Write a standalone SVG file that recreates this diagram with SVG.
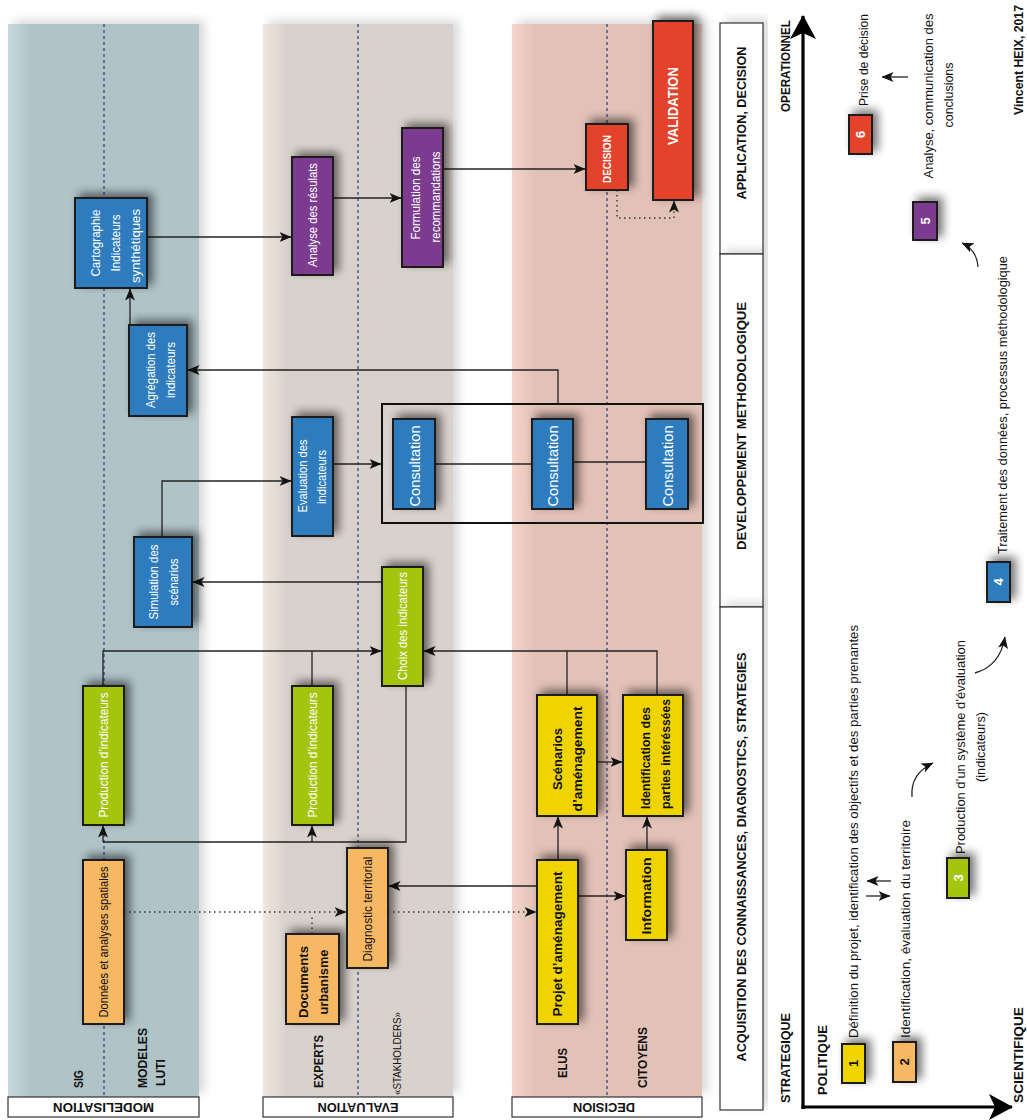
<svg xmlns="http://www.w3.org/2000/svg" width="1027" height="1120" viewBox="0 0 1027 1120">
<defs>
<style>
.t{font-family:"Liberation Sans",Arial,sans-serif;font-size:13px;text-anchor:middle;dominant-baseline:central;fill:#111}
.s{text-anchor:start}
.w{fill:#fff}
.b{font-weight:bold}
.nd{stroke:#1a1a1a;stroke-width:2}
.or{fill:#f7b863}.ye{fill:#f0d400}.gr{fill:#a5c40c}.bl{fill:#2f7bbd}.pu{fill:#7b3a8e}.rd{fill:#e4432a}
.c{fill:none;stroke:#222;stroke-width:1.3}
.d{fill:none;stroke:#333;stroke-width:1.4;stroke-dasharray:1.5 3.5}
.ld{fill:none;stroke:#2b3a8a;stroke-width:1.2;stroke-dasharray:3 3}
.hb{fill:#fff;stroke:#333;stroke-width:1.2}
</style>
<filter id="sh" x="-60%" y="-60%" width="220%" height="220%">
<feGaussianBlur in="SourceAlpha" stdDeviation="5"/>
<feOffset dx="5" dy="-4"/>
<feComponentTransfer><feFuncA type="linear" slope="0.55"/></feComponentTransfer>
<feMerge><feMergeNode/><feMergeNode in="SourceGraphic"/></feMerge>
</filter>
<filter id="sl" x="-10%" y="-5%" width="120%" height="110%">
<feGaussianBlur in="SourceAlpha" stdDeviation="5"/>
<feOffset dx="6" dy="-4"/>
<feComponentTransfer><feFuncA type="linear" slope="0.15"/></feComponentTransfer>
<feMerge><feMergeNode/><feMergeNode in="SourceGraphic"/></feMerge>
</filter>
<linearGradient id="gM" x1="0" x2="1" y1="0" y2="0"><stop offset="0" stop-color="#c7d9dc"/><stop offset="0.12" stop-color="#b0c3c7"/><stop offset="1" stop-color="#b0c3c7"/></linearGradient>
<linearGradient id="gE" x1="0" x2="1" y1="0" y2="0"><stop offset="0" stop-color="#eee6df"/><stop offset="0.12" stop-color="#d9d2cc"/><stop offset="1" stop-color="#d9d2cc"/></linearGradient>
<linearGradient id="gD" x1="0" x2="1" y1="0" y2="0"><stop offset="0" stop-color="#f5d5ca"/><stop offset="0.12" stop-color="#e2c1b7"/><stop offset="1" stop-color="#e2c1b7"/></linearGradient>
<marker id="ah" viewBox="0 0 12 10" refX="11.5" refY="5" markerWidth="12" markerHeight="10" markerUnits="userSpaceOnUse" orient="auto"><path d="M0,0 L12,5 L0,10 L3,5 z" fill="#111"/></marker>
<marker id="ax" viewBox="0 0 24 26" refX="23" refY="13" markerWidth="24" markerHeight="26" markerUnits="userSpaceOnUse" orient="auto"><path d="M0,0 L24,13 L0,26 L6,13 z" fill="#000"/></marker>
</defs>
<rect width="1027" height="1120" fill="#fff"/>

<g id="lanes">
<rect x="8" y="24" width="191" height="1073" fill="url(#gM)" filter="url(#sl)"/>
<rect x="263" y="24" width="190" height="1073" fill="url(#gE)" filter="url(#sl)"/>
<rect x="512" y="24" width="190" height="1073" fill="url(#gD)" filter="url(#sl)"/>
<line class="ld" x1="104" y1="24" x2="104" y2="1097"/>
<line class="ld" x1="358" y1="24" x2="358" y2="1097"/>
<line class="ld" x1="607" y1="24" x2="607" y2="1097"/>
<rect class="hb" x="8" y="1097" width="191" height="20"/>
<rect class="hb" x="263" y="1097" width="190" height="20"/>
<rect class="hb" x="512" y="1097" width="190" height="20"/>
<text class="t b" textLength="101" lengthAdjust="spacingAndGlyphs" transform="translate(103.5,1107) rotate(180)">MODELISATION</text>
<text class="t b" textLength="81" lengthAdjust="spacingAndGlyphs" transform="translate(358,1107) rotate(180)">EVALUATION</text>
<text class="t b" textLength="62" lengthAdjust="spacingAndGlyphs" transform="translate(604,1107) rotate(180)">DECISION</text>
<text class="t b s" textLength="18" lengthAdjust="spacingAndGlyphs" transform="translate(78,1088) rotate(-90)">SIG</text>
<text class="t b s" textLength="60" lengthAdjust="spacingAndGlyphs" transform="translate(142,1088) rotate(-90)">MODELES</text>
<text class="t b s" textLength="27" lengthAdjust="spacingAndGlyphs" transform="translate(160,1086) rotate(-90)">LUTI</text>
<text class="t b s" textLength="53" lengthAdjust="spacingAndGlyphs" transform="translate(318,1088) rotate(-90)">EXPERTS</text>
<text class="t s" style="font-size:11px" textLength="83" lengthAdjust="spacingAndGlyphs" transform="translate(397,1095) rotate(-90)">«STAKHOLDERS»</text>
<text class="t b s" textLength="30" lengthAdjust="spacingAndGlyphs" transform="translate(562,1078) rotate(-90)">ELUS</text>
<text class="t b s" textLength="61" lengthAdjust="spacingAndGlyphs" transform="translate(642,1088) rotate(-90)">CITOYENS</text>
</g>

<g id="headers">
<rect class="hb" x="720" y="23" width="43" height="231" filter="url(#sl)"/>
<rect class="hb" x="720" y="254" width="43" height="353" filter="url(#sl)"/>
<rect class="hb" x="720" y="607" width="43" height="503" filter="url(#sl)"/>
<text class="t b" textLength="153" lengthAdjust="spacingAndGlyphs" transform="translate(741.5,123) rotate(-90)">APPLICATION, DECISION</text>
<text class="t b" textLength="248" lengthAdjust="spacingAndGlyphs" transform="translate(741.5,426) rotate(-90)">DEVELOPPEMENT METHODOLOGIQUE</text>
<text class="t b" textLength="409" lengthAdjust="spacingAndGlyphs" transform="translate(741.5,857) rotate(-90)">ACQUISITION DES CONNAISSANCES, DIAGNOSTICS, STRATEGIES</text>
</g>

<g id="connectors">
<line class="d" x1="124" y1="912" x2="346" y2="912" marker-end="url(#ah)"/>
<line class="d" x1="312" y1="934" x2="312" y2="914"/>
<line class="d" x1="388" y1="912" x2="536" y2="912" marker-end="url(#ah)"/>
<line class="c" x1="537" y1="886" x2="389" y2="886" marker-end="url(#ah)"/>
<line class="c" x1="578" y1="896" x2="625" y2="896" marker-end="url(#ah)"/>
<line class="c" x1="558" y1="860" x2="558" y2="817" marker-end="url(#ah)"/>
<line class="c" x1="647" y1="850" x2="647" y2="817" marker-end="url(#ah)"/>
<line class="c" x1="597" y1="762" x2="622" y2="762" marker-end="url(#ah)"/>
<polyline class="c" points="567,695 567,651"/>
<polyline class="c" points="657,695 657,651 424,651" marker-end="url(#ah)"/>
<polyline class="c" points="103,686 103,651 381,651" marker-end="url(#ah)"/>
<polyline class="c" points="312,686 312,651"/>
<polyline class="c" points="406,686 406,842 103,842"/>
<line class="c" x1="103" y1="842" x2="103" y2="826" marker-end="url(#ah)"/>
<line class="c" x1="312" y1="842" x2="312" y2="826" marker-end="url(#ah)"/>
<line class="c" x1="382" y1="582" x2="193" y2="582" marker-end="url(#ah)"/>
<polyline class="c" points="162,537 162,481 291,481" marker-end="url(#ah)"/>
<line class="c" x1="333" y1="464" x2="381" y2="464" marker-end="url(#ah)"/>
<line class="c" x1="435" y1="464" x2="532" y2="464"/>
<line class="c" x1="573" y1="462" x2="646" y2="462"/>
<polyline class="c" points="558,404 558,370 188,370" marker-end="url(#ah)"/>
<line class="c" x1="130" y1="325" x2="130" y2="289" marker-end="url(#ah)"/>
<line class="c" x1="147" y1="237" x2="291" y2="237" marker-end="url(#ah)"/>
<line class="c" x1="333" y1="198" x2="401" y2="198" marker-end="url(#ah)"/>
<line class="c" x1="443" y1="169" x2="585" y2="169" marker-end="url(#ah)"/>
<polyline class="d" points="617,190 617,218 674,218 674,201" marker-end="url(#ah)"/>
</g>

<g id="n-donnees"><rect class="nd or" x="83" y="860" width="41" height="164" filter="url(#sh)"/><text class="t" textLength="151" lengthAdjust="spacingAndGlyphs" transform="translate(103.5,942) rotate(-90)">Données et analyses spatiales</text></g>
<g id="n-prod1"><rect class="nd gr" x="83" y="686" width="41" height="139" filter="url(#sh)"/><text class="t w" textLength="125" lengthAdjust="spacingAndGlyphs" transform="translate(103.5,755) rotate(-90)">Production d’indicateurs</text></g>
<g id="n-simulation"><rect class="nd bl" x="134" y="537" width="58" height="90" filter="url(#sh)"/><text class="t w" textLength="75" lengthAdjust="spacingAndGlyphs" transform="translate(153,582) rotate(-90)">Simulation des</text><text class="t w" textLength="47" lengthAdjust="spacingAndGlyphs" transform="translate(173,582) rotate(-90)">scénarios</text></g>
<g id="n-agregation"><rect class="nd bl" x="129" y="325" width="58" height="91" filter="url(#sh)"/><text class="t w" textLength="76" lengthAdjust="spacingAndGlyphs" transform="translate(150,370) rotate(-90)">Agrégation des</text><text class="t w" textLength="56" lengthAdjust="spacingAndGlyphs" transform="translate(170,370) rotate(-90)">indicateurs</text></g>
<g id="n-cartographie"><rect class="nd bl" x="75" y="198" width="72" height="90" filter="url(#sh)"/><text class="t w" textLength="67" lengthAdjust="spacingAndGlyphs" transform="translate(95,243) rotate(-90)">Cartographie</text><text class="t w" textLength="57" lengthAdjust="spacingAndGlyphs" transform="translate(115,243) rotate(-90)">Indicateurs</text><text class="t w" textLength="74" lengthAdjust="spacingAndGlyphs" transform="translate(135,246) rotate(-90)">synthétiques</text></g>
<g id="n-documents"><rect class="nd or" x="286" y="934" width="53" height="90" filter="url(#sh)"/><text class="t b" textLength="72" lengthAdjust="spacingAndGlyphs" transform="translate(303,982) rotate(-90)">Documents</text><text class="t b" textLength="65" lengthAdjust="spacingAndGlyphs" transform="translate(323,982) rotate(-90)">urbanisme</text></g>
<g id="n-diagnostic"><rect class="nd or" x="347" y="848" width="41" height="120" filter="url(#sh)"/><text class="t" textLength="105" lengthAdjust="spacingAndGlyphs" transform="translate(367.5,909) rotate(-90)">Diagnostic territorial</text></g>
<g id="n-prod2"><rect class="nd gr" x="292" y="686" width="41" height="139" filter="url(#sh)"/><text class="t w" textLength="125" lengthAdjust="spacingAndGlyphs" transform="translate(312.5,755) rotate(-90)">Production d’indicateurs</text></g>
<g id="n-choix"><rect class="nd gr" x="382" y="567" width="41" height="119" filter="url(#sh)"/><text class="t w" textLength="108" lengthAdjust="spacingAndGlyphs" transform="translate(402.5,626) rotate(-90)">Choix des indicateurs</text></g>
<g id="n-evaluation"><rect class="nd bl" x="292" y="417" width="41" height="119" filter="url(#sh)"/><text class="t w" style="font-size:12px" textLength="73" lengthAdjust="spacingAndGlyphs" transform="translate(303,476) rotate(-90)">Evaluation des</text><text class="t w" style="font-size:12px" textLength="54" lengthAdjust="spacingAndGlyphs" transform="translate(322,477) rotate(-90)">indicateurs</text></g>
<g id="n-analyse"><rect class="nd pu" x="292" y="157" width="41" height="118" filter="url(#sh)"/><text class="t w" textLength="104" lengthAdjust="spacingAndGlyphs" transform="translate(312.5,215) rotate(-90)">Analyse des résulats</text></g>
<g id="n-formulation"><rect class="nd pu" x="402" y="128" width="41" height="139" filter="url(#sh)"/><text class="t w" textLength="83" lengthAdjust="spacingAndGlyphs" transform="translate(415,198) rotate(-90)">Formulation des</text><text class="t w" textLength="91" lengthAdjust="spacingAndGlyphs" transform="translate(435,197) rotate(-90)">recommandations</text></g>
<g id="n-consultation-group"><rect x="382" y="404" width="321" height="119" fill="none" stroke="#111" stroke-width="2"/></g>
<g id="n-consult1"><rect class="nd bl" x="393" y="419" width="42" height="90" filter="url(#sh)"/><text class="t w" style="font-size:15px" textLength="81" lengthAdjust="spacingAndGlyphs" transform="translate(414,466) rotate(-90)">Consultation</text></g>
<g id="n-consult2"><rect class="nd bl" x="532" y="419" width="41" height="90" filter="url(#sh)"/><text class="t w" style="font-size:15px" textLength="81" lengthAdjust="spacingAndGlyphs" transform="translate(552.5,466) rotate(-90)">Consultation</text></g>
<g id="n-consult3"><rect class="nd bl" x="646" y="419" width="42" height="90" filter="url(#sh)"/><text class="t w" style="font-size:15px" textLength="81" lengthAdjust="spacingAndGlyphs" transform="translate(667,466) rotate(-90)">Consultation</text></g>
<g id="n-projet"><rect class="nd ye" x="537" y="860" width="41" height="164" filter="url(#sh)"/><text class="t b" textLength="145" lengthAdjust="spacingAndGlyphs" transform="translate(557.5,944) rotate(-90)">Projet d’aménagement</text></g>
<g id="n-information"><rect class="nd ye" x="626" y="850" width="41" height="90" filter="url(#sh)"/><text class="t b" textLength="77" lengthAdjust="spacingAndGlyphs" transform="translate(646.5,896) rotate(-90)">Information</text></g>
<g id="n-scenarios"><rect class="nd ye" x="537" y="695" width="60" height="121" filter="url(#sh)"/><text class="t b" textLength="62" lengthAdjust="spacingAndGlyphs" transform="translate(557,759) rotate(-90)">Scénarios</text><text class="t b" textLength="105" lengthAdjust="spacingAndGlyphs" transform="translate(577,759) rotate(-90)">d’aménagement</text></g>
<g id="n-identification"><rect class="nd ye" x="623" y="695" width="60" height="121" filter="url(#sh)"/><text class="t b" textLength="102" lengthAdjust="spacingAndGlyphs" transform="translate(645,758) rotate(-90)">Identification des</text><text class="t b" textLength="110" lengthAdjust="spacingAndGlyphs" transform="translate(665,754) rotate(-90)">parties intéréssées</text></g>
<g id="n-decision"><rect class="nd rd" x="586" y="124" width="42" height="66" filter="url(#sh)"/><text class="t w b" style="font-size:11px" textLength="48" lengthAdjust="spacingAndGlyphs" transform="translate(607,159) rotate(-90)">DECISION</text></g>
<g id="n-validation"><rect class="nd rd" x="653" y="21" width="40" height="179" filter="url(#sh)"/><text class="t w b" style="font-size:14px" textLength="78" lengthAdjust="spacingAndGlyphs" transform="translate(673,106) rotate(-90)">VALIDATION</text></g>

<g id="axes">
<line x1="803" y1="1109" x2="803" y2="16" stroke="#000" stroke-width="3.2" marker-end="url(#ax)"/>
<line x1="801.5" y1="1107" x2="1012" y2="1107" stroke="#000" stroke-width="3.2" marker-end="url(#ax)"/>
<text class="t b" textLength="92" lengthAdjust="spacingAndGlyphs" transform="translate(785,66) rotate(-90)">OPERATIONNEL</text>
<text class="t b" textLength="90" lengthAdjust="spacingAndGlyphs" transform="translate(785,1058) rotate(-90)">STRATEGIQUE</text>
<text class="t b" textLength="70" lengthAdjust="spacingAndGlyphs" transform="translate(822,1060) rotate(-90)">POLITIQUE</text>
<text class="t b" textLength="96" lengthAdjust="spacingAndGlyphs" transform="translate(1018,1055) rotate(-90)">SCIENTIFIQUE</text>
</g>

<g id="legend">
<rect class="nd ye" x="842" y="1044" width="23" height="39" filter="url(#sh)"/><text class="t b" transform="translate(853.5,1063.5) rotate(-90)">1</text>
<rect class="nd or" x="893" y="1042" width="23" height="40" filter="url(#sh)"/><text class="t b" transform="translate(904.5,1062) rotate(-90)">2</text>
<rect class="nd gr" x="947" y="858" width="22" height="40" filter="url(#sh)"/><text class="t w b" transform="translate(958,878) rotate(-90)">3</text>
<rect class="nd bl" x="987" y="562" width="23" height="40" filter="url(#sh)"/><text class="t w b" transform="translate(998.5,582) rotate(-90)">4</text>
<rect class="nd pu" x="913" y="202" width="24" height="38" filter="url(#sh)"/><text class="t w b" transform="translate(925,221) rotate(-90)">5</text>
<rect class="nd rd" x="849" y="115" width="23" height="39" filter="url(#sh)"/><text class="t w b" transform="translate(860.5,134.5) rotate(-90)">6</text>
<text class="t s" textLength="413" lengthAdjust="spacingAndGlyphs" transform="translate(853,1038) rotate(-90)">Définition du projet, identification des objectifs et des parties prenantes</text>
<text class="t s" textLength="218" lengthAdjust="spacingAndGlyphs" transform="translate(905,1038) rotate(-90)">Identification, évaluation du territoire</text>
<text class="t s" textLength="214" lengthAdjust="spacingAndGlyphs" transform="translate(960,854) rotate(-90)">Production d’un système d’évaluation</text>
<text class="t" textLength="70" lengthAdjust="spacingAndGlyphs" transform="translate(980,747) rotate(-90)">(indicateurs)</text>
<text class="t s" textLength="298" lengthAdjust="spacingAndGlyphs" transform="translate(1002,554) rotate(-90)">Traitement des données, processus méthodologique</text>
<text class="t" textLength="165" lengthAdjust="spacingAndGlyphs" transform="translate(928,96) rotate(-90)">Analyse, communication des</text>
<text class="t" textLength="65" lengthAdjust="spacingAndGlyphs" transform="translate(948,95) rotate(-90)">conclusions</text>
<text class="t s" textLength="92" lengthAdjust="spacingAndGlyphs" transform="translate(863,106) rotate(-90)">Prise de décision</text>
<text class="t b s" style="font-size:12px" textLength="110" lengthAdjust="spacingAndGlyphs" transform="translate(1019,115) rotate(-90)">Vincent HEIX, 2017</text>
<line class="c" x1="891" y1="881" x2="867" y2="881" marker-end="url(#ah)"/>
<line class="c" x1="866" y1="896" x2="890" y2="896" marker-end="url(#ah)"/>
<path class="c" d="M912,797 Q910,774 933,763" marker-end="url(#ah)"/>
<path class="c" d="M975,673 Q1000,666 1005,637" marker-end="url(#ah)"/>
<path class="c" d="M978,267 Q977,250 962,243" marker-end="url(#ah)"/>
<line class="c" x1="908" y1="77" x2="882" y2="77" marker-end="url(#ah)"/>
</g>
</svg>
